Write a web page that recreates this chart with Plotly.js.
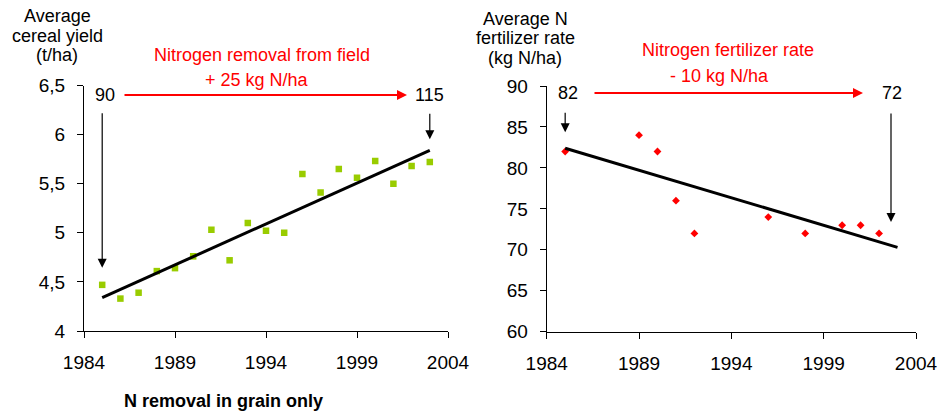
<!DOCTYPE html>
<html>
<head>
<meta charset="utf-8">
<script src="https://cdn.plot.ly/plotly-3.0.1.min.js"></script>
<style>
  html, body { margin: 0; padding: 0; background: #ffffff; }
  #chart { width: 941px; height: 414px; }
</style>
</head>
<body>
<div id="chart"></div>
<script>
// ---- data ----
const yieldYears = [1985, 1986, 1987, 1988, 1989, 1990, 1991, 1992, 1993, 1994, 1995, 1996, 1997, 1998, 1999, 2000, 2001, 2002, 2003];
const yieldValues = [4.47, 4.33, 4.39, 4.61, 4.64, 4.76, 5.03, 4.72, 5.10, 5.02, 5.00, 5.60, 5.41, 5.65, 5.56, 5.73, 5.50, 5.68, 5.72];
const yieldTrendYears = [1985, 2003];
const yieldTrendValues = [4.34, 5.84];

const fertYears = [1985, 1989, 1990, 1991, 1992, 1996, 1998, 2000, 2001, 2002];
const fertValues = [82, 84, 82, 76, 72, 74, 72, 73, 73, 72];
const fertTrendYears = [1985, 2003];
const fertTrendValues = [82.4, 70.3];

const xTickVals = [1984, 1989, 1994, 1999, 2004];
const yieldTickVals = [4, 4.5, 5, 5.5, 6, 6.5];
const yieldTickText = ["4", "4,5", "5", "5,5", "6", "6,5"];
const fertTickVals = [60, 65, 70, 75, 80, 85, 90];

// ---- layout helpers (pixel -> paper) ----
const W = 941, H = 414;
const px = v => v / W;
const py = v => 1 - v / H;
const FONT = "Liberation Sans, Arial, sans-serif";

const traces = [
  { x: yieldYears, y: yieldValues, xaxis: 'x', yaxis: 'y', type: 'scatter', mode: 'markers',
    marker: { symbol: 'square', size: 6.5, color: '#99cc00' }, hoverinfo: 'skip' },
  { x: yieldTrendYears, y: yieldTrendValues, xaxis: 'x', yaxis: 'y', type: 'scatter', mode: 'lines',
    line: { color: '#000000', width: 3 }, hoverinfo: 'skip' },
  { x: fertYears, y: fertValues, xaxis: 'x2', yaxis: 'y2', type: 'scatter', mode: 'markers',
    marker: { symbol: 'diamond', size: 6, color: '#ff0000' }, hoverinfo: 'skip' },
  { x: fertTrendYears, y: fertTrendValues, xaxis: 'x2', yaxis: 'y2', type: 'scatter', mode: 'lines',
    line: { color: '#000000', width: 3 }, hoverinfo: 'skip' }
];

const axisCommon = {
  showgrid: false, zeroline: false, showline: true, linecolor: '#000000', linewidth: 1,
  ticks: 'outside', ticklen: 6, tickwidth: 1, tickcolor: '#000000',
  tickfont: { family: FONT, size: 19, color: '#000000' }
};

function txt(text, x, y, color, size, bold) {
  return { xref: 'paper', yref: 'paper', x: px(x), y: py(y), xanchor: 'center', yanchor: 'middle',
    text: bold ? '<b>' + text + '</b>' : text, showarrow: false,
    font: { family: FONT, size: size || 18, color: color || '#000000' } };
}
function hArrow(x0, x1, y, color) {
  return { xref: 'paper', yref: 'paper', x: px(x1), y: py(y), ax: x0 - x1, ay: 0, axref: 'pixel', ayref: 'pixel',
    text: '', showarrow: true, arrowhead: 2, arrowsize: 1, arrowwidth: 2, arrowcolor: color };
}
const blackArrow = { text: '', showarrow: true, arrowhead: 2, arrowsize: 1.5, arrowwidth: 1.2, arrowcolor: '#000000' };

const annotations = [
  // left titles
  txt('Average', 57, 16), txt('cereal yield', 57, 35.5), txt('(t/ha)', 57, 55),
  txt('Nitrogen removal from field', 262, 55, '#ff0000'),
  txt('+ 25 kg N/ha', 257, 80, '#ff0000'),
  txt('90', 105, 95), txt('115', 429, 95),
  hArrow(123, 407, 95, '#ff0000'),
  Object.assign({ xref: 'x', yref: 'y', x: yieldYears[0], y: yieldValues[0], ax: 0, ay: -173, standoff: 17 }, blackArrow),
  Object.assign({ xref: 'x', yref: 'y', x: yieldTrendYears[1], y: yieldTrendValues[1], ax: 0, ay: -38, standoff: 11 }, blackArrow),
  txt('N removal in grain only', 223, 401, '#000000', 18, true),
  // right titles
  txt('Average N', 525, 19.5), txt('fertilizer rate', 525, 38.5), txt('(kg N/ha)', 525, 58),
  txt('Nitrogen fertilizer rate', 728, 50, '#ff0000'),
  txt('- 10 kg N/ha', 719, 76, '#ff0000'),
  txt('82', 568, 93), txt('72', 892, 93),
  hArrow(593, 863, 93, '#ff0000'),
  Object.assign({ xref: 'x2', yref: 'y2', x: fertTrendYears[0], y: fertTrendValues[0], ax: 0, ay: -37, standoff: 16 }, blackArrow),
  Object.assign({ xref: 'paper', yref: 'paper', x: px(891), y: py(222), ax: 0, ay: -110, axref: 'pixel', ayref: 'pixel' }, blackArrow)
];

const layout = {
  width: W, height: H,
  margin: { l: 0, r: 0, t: 0, b: 0 },
  paper_bgcolor: '#ffffff', plot_bgcolor: '#ffffff',
  showlegend: false,
  font: { family: FONT, size: 18, color: '#000000' },
  xaxis: Object.assign({}, axisCommon, { domain: [px(84), px(448)], range: [1984, 2004],
    tickvals: xTickVals, anchor: 'y', ticklabelstandoff: 8 }),
  yaxis: Object.assign({}, axisCommon, { domain: [py(331), py(85.5)], range: [4, 6.5],
    tickvals: yieldTickVals, ticktext: yieldTickText, anchor: 'x', ticklabelstandoff: 8 }),
  xaxis2: Object.assign({}, axisCommon, { domain: [px(546.7), px(916)], range: [1984, 2004],
    tickvals: xTickVals, anchor: 'y2', ticklabelstandoff: 8 }),
  yaxis2: Object.assign({}, axisCommon, { domain: [py(331.7), py(86)], range: [60, 90],
    tickvals: fertTickVals, anchor: 'x2', ticklabelstandoff: 8 }),
  annotations: annotations
};

Plotly.newPlot('chart', traces, layout, { staticPlot: true, displayModeBar: false });
</script>
</body>
</html>
